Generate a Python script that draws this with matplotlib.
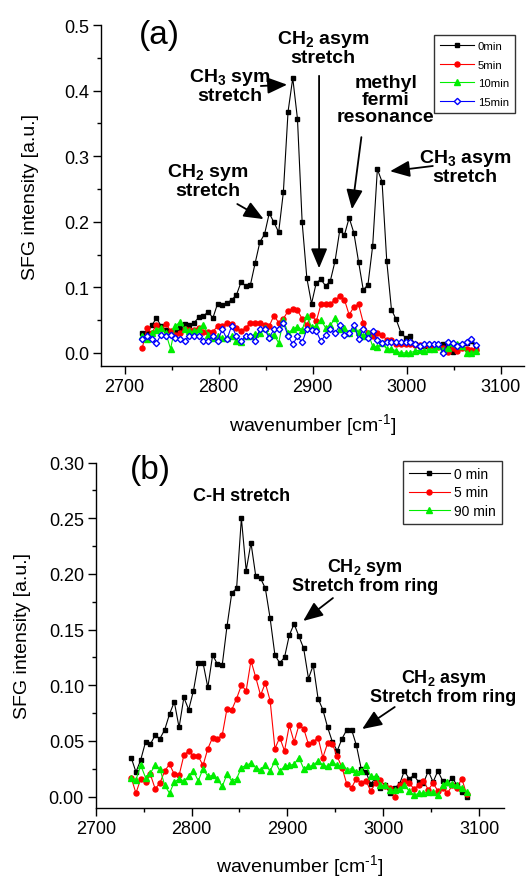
import matplotlib
matplotlib.use("Agg")
import matplotlib.pyplot as plt
from matplotlib.ticker import MultipleLocator, FormatStrFormatter

plt.rcParams['font.family'] = ['Liberation Sans', 'DejaVu Sans']
plt.rcParams['mathtext.fontset'] = 'custom'
plt.rcParams['mathtext.rm'] = 'Liberation Sans'
plt.rcParams['mathtext.it'] = 'Liberation Sans:italic'
plt.rcParams['mathtext.bf'] = 'Liberation Sans:bold'

# ---------------- panel (a) data ----------------
wn_a = [2719, 2724, 2729, 2734, 2739, 2744, 2749, 2754, 2759, 2764, 2769, 2774,
        2779, 2784, 2789, 2794, 2799, 2804, 2809, 2814, 2819, 2824, 2829, 2834,
        2839, 2844, 2849, 2854, 2859, 2864, 2869, 2874, 2879, 2884, 2889, 2894,
        2899, 2904, 2909, 2914, 2919, 2924, 2929, 2934, 2939, 2944, 2949, 2954,
        2959, 2964, 2969, 2974, 2979, 2984, 2989, 2994, 2999, 3004, 3009, 3014,
        3019, 3024, 3029, 3034, 3039, 3044, 3049, 3054, 3059, 3064, 3069, 3074]
a_0min = [0.030, 0.030, 0.042, 0.053, 0.041, 0.035, 0.030, 0.032, 0.038, 0.044,
          0.042, 0.046, 0.054, 0.056, 0.063, 0.053, 0.075, 0.073, 0.076, 0.081,
          0.088, 0.108, 0.102, 0.104, 0.137, 0.169, 0.181, 0.213, 0.199, 0.184,
          0.245, 0.368, 0.419, 0.357, 0.199, 0.114, 0.075, 0.107, 0.112, 0.102,
          0.110, 0.140, 0.187, 0.180, 0.206, 0.183, 0.139, 0.096, 0.104, 0.163,
          0.280, 0.261, 0.140, 0.066, 0.051, 0.031, 0.023, 0.025, 0.013, 0.010,
          0.011, 0.012, 0.010, 0.011, 0.013, 0.010, 0.002, 0.012, 0.010, 0.015,
          0.018, 0.006]
a_5min = [0.008, 0.038, 0.030, 0.043, 0.036, 0.044, 0.034, 0.027, 0.030, 0.036,
          0.035, 0.035, 0.038, 0.032, 0.032, 0.032, 0.041, 0.041, 0.046, 0.044,
          0.038, 0.033, 0.038, 0.046, 0.046, 0.046, 0.043, 0.041, 0.057, 0.046,
          0.052, 0.064, 0.067, 0.065, 0.052, 0.043, 0.058, 0.048, 0.074, 0.075,
          0.075, 0.081, 0.086, 0.081, 0.058, 0.070, 0.074, 0.046, 0.031, 0.025,
          0.031, 0.027, 0.020, 0.019, 0.013, 0.013, 0.014, 0.013, 0.012, 0.012,
          0.012, 0.010, 0.010, 0.009, 0.007, 0.001, 0.008, 0.003, 0.008, 0.006,
          0.005, 0.005]
a_10min = [0.026, 0.021, 0.030, 0.035, 0.038, 0.030, 0.006, 0.041, 0.047, 0.036,
           0.033, 0.033, 0.036, 0.043, 0.028, 0.023, 0.025, 0.022, 0.023, 0.025,
           0.018, 0.016, 0.026, 0.025, 0.029, 0.030, 0.038, 0.026, 0.028, 0.015,
           0.050, 0.030, 0.036, 0.040, 0.035, 0.057, 0.039, 0.041, 0.050, 0.038,
           0.042, 0.053, 0.036, 0.038, 0.031, 0.038, 0.032, 0.026, 0.031, 0.010,
           0.009, 0.015, 0.006, 0.006, 0.003, 0.000, 0.000, 0.000, 0.003, 0.004,
           0.003, 0.006, 0.006, 0.010, 0.004, 0.007, 0.015, 0.014, 0.010, 0.000,
           0.000, 0.003]
a_15min = [0.021, 0.026, 0.021, 0.015, 0.028, 0.026, 0.027, 0.023, 0.021, 0.018,
           0.026, 0.026, 0.026, 0.018, 0.018, 0.026, 0.018, 0.036, 0.021, 0.041,
           0.026, 0.018, 0.026, 0.026, 0.018, 0.036, 0.036, 0.023, 0.036, 0.036,
           0.046, 0.026, 0.013, 0.025, 0.016, 0.036, 0.035, 0.033, 0.018, 0.028,
           0.036, 0.030, 0.042, 0.028, 0.030, 0.043, 0.021, 0.036, 0.022, 0.033,
           0.020, 0.015, 0.017, 0.017, 0.017, 0.016, 0.016, 0.017, 0.013, 0.011,
           0.013, 0.013, 0.014, 0.014, 0.000, 0.017, 0.015, 0.011, 0.013, 0.016,
           0.021, 0.012]
labels_a = ["0min", "5min", "10min", "15min"]

# ---------------- panel (b) data ----------------
wn_b = [2737, 2742, 2747, 2752, 2757, 2762, 2767, 2772, 2777, 2782, 2787, 2792,
        2797, 2802, 2807, 2812, 2817, 2822, 2827, 2832, 2837, 2842, 2847, 2852,
        2857, 2862, 2867, 2872, 2877, 2882, 2887, 2892, 2897, 2902, 2907, 2912,
        2917, 2922, 2927, 2932, 2937, 2942, 2947, 2952, 2957, 2962, 2967, 2972,
        2977, 2982, 2987, 2992, 2997, 3002, 3007, 3012, 3017, 3022, 3027, 3032,
        3037, 3042, 3047, 3052, 3057, 3062, 3067, 3072, 3077, 3082, 3087]
b_0min = [0.035, 0.022, 0.033, 0.049, 0.047, 0.055, 0.052, 0.060, 0.074, 0.085,
          0.062, 0.089, 0.078, 0.095, 0.120, 0.120, 0.098, 0.127, 0.119, 0.118,
          0.153, 0.183, 0.187, 0.250, 0.203, 0.228, 0.198, 0.196, 0.187, 0.160,
          0.127, 0.120, 0.125, 0.145, 0.155, 0.144, 0.133, 0.106, 0.118, 0.088,
          0.078, 0.062, 0.049, 0.041, 0.052, 0.060, 0.060, 0.046, 0.025, 0.022,
          0.011, 0.017, 0.008, 0.010, 0.003, 0.008, 0.011, 0.023, 0.016, 0.019,
          0.013, 0.012, 0.023, 0.013, 0.023, 0.014, 0.012, 0.017, 0.010, 0.004,
          0.000]
b_5min = [0.017, 0.003, 0.016, 0.013, 0.020, 0.007, 0.012, 0.023, 0.029, 0.020,
          0.019, 0.037, 0.041, 0.036, 0.036, 0.028, 0.043, 0.053, 0.052, 0.055,
          0.079, 0.078, 0.088, 0.100, 0.095, 0.122, 0.107, 0.091, 0.102, 0.086,
          0.043, 0.053, 0.041, 0.064, 0.049, 0.064, 0.061, 0.047, 0.049, 0.053,
          0.035, 0.048, 0.047, 0.036, 0.026, 0.011, 0.008, 0.016, 0.012, 0.014,
          0.005, 0.012, 0.015, 0.009, 0.008, 0.000, 0.010, 0.014, 0.012, 0.007,
          0.010, 0.014, 0.006, 0.012, 0.005, 0.008, 0.003, 0.010, 0.008, 0.016,
          0.002]
b_90min = [0.017, 0.015, 0.028, 0.017, 0.021, 0.028, 0.025, 0.010, 0.003, 0.013,
           0.016, 0.014, 0.018, 0.023, 0.014, 0.025, 0.018, 0.019, 0.016, 0.009,
           0.020, 0.014, 0.016, 0.026, 0.028, 0.030, 0.026, 0.024, 0.028, 0.023,
           0.032, 0.023, 0.027, 0.028, 0.029, 0.035, 0.025, 0.027, 0.028, 0.032,
           0.028, 0.027, 0.031, 0.028, 0.028, 0.024, 0.025, 0.022, 0.023, 0.028,
           0.018, 0.018, 0.010, 0.010, 0.006, 0.006, 0.007, 0.010, 0.005, 0.001,
           0.003, 0.003, 0.004, 0.004, 0.001, 0.010, 0.013, 0.011, 0.010, 0.008,
           0.004]
labels_b = ["0 min", "5 min", "90 min"]

W, H = 531, 878
fig = plt.figure(figsize=(W / 100, H / 100), dpi=100)

def px_axes(left, top, right, bottom):
    return fig.add_axes([left / W, 1 - bottom / H, (right - left) / W, (bottom - top) / H])

def style_axes(ax):
    for s in ('top', 'right'):
        ax.spines[s].set_visible(False)
    for s in ('left', 'bottom'):
        ax.spines[s].set_linewidth(1.0)
    ax.tick_params(which='major', direction='out', length=5.5, width=1.0, labelsize=13, pad=3)
    ax.tick_params(which='minor', direction='out', length=3, width=1.0)
    ax.xaxis.set_major_locator(MultipleLocator(100))
    ax.xaxis.set_minor_locator(MultipleLocator(50))

xlab = r'wavenumber [cm$^{\text{-}1}$]'
lw = 0.8
# ---------------- panel (a) ----------------
ax1 = px_axes(101, 26, 524, 367)
style_axes(ax1)
ax1.plot(wn_a, a_0min, '-', color='black', lw=lw, marker='s', ms=3.2, mfc='black', mec='black', label=labels_a[0])
ax1.plot(wn_a, a_5min, '-', color='red', lw=lw, marker='o', ms=3.6, mfc='red', mec='red', label=labels_a[1])
ax1.plot(wn_a, a_10min, '-', color='#00ee00', lw=lw, marker='^', ms=3.8, mfc='#00ee00', mec='#00ee00', label=labels_a[2])
ax1.plot(wn_a, a_15min, '-', color='blue', lw=lw, marker='D', ms=3.2, mfc='white', mec='blue', mew=1.0, label=labels_a[3])
ax1.set_xlim(2675, 3125)
ax1.set_ylim(-0.02, 0.5)
ax1.yaxis.set_major_locator(MultipleLocator(0.1))
ax1.yaxis.set_minor_locator(MultipleLocator(0.05))
ax1.yaxis.set_major_formatter(FormatStrFormatter('%.1f'))
ax1.set_xlabel(xlab, fontsize=14, labelpad=12)
ax1.set_ylabel('SFG intensity [a.u.]', fontsize=14, labelpad=18)
leg1 = ax1.legend(loc='upper left', bbox_to_anchor=(434 / W, 1 - 36 / H), bbox_transform=fig.transFigure,
                  fontsize=8.2, frameon=True, fancybox=False, edgecolor='black', borderaxespad=0,
                  numpoints=1, handlelength=3.0, handletextpad=0.3, labelspacing=0.75, borderpad=0.55)
leg1.get_frame().set_linewidth(1.0)

bold = dict(fontsize=14, fontweight='bold', ha='center', va='center', linespacing=1.0)
arr = dict(arrowstyle='-|>,head_length=0.6,head_width=0.25', mutation_scale=20, lw=1.3, color='black',
           shrinkA=0, shrinkB=0)
ax1.text(2737, 0.485, '(a)', fontsize=24, ha='center', va='center')
ax1.text(2812, 0.409, 'CH$_\\mathbf{3}$ sym\nstretch', **bold)
ax1.annotate('', xy=(2873, 0.409), xytext=(2845, 0.407), arrowprops=arr)
ax1.text(2789, 0.2635, 'CH$_\\mathbf{2}$ sym\nstretch', **bold)
ax1.annotate('', xy=(2848, 0.204), xytext=(2820, 0.227), arrowprops=arr)
ax1.text(2911, 0.466, 'CH$_\\mathbf{2}$ asym\nstretch', **bold)
ax1.annotate('', xy=(2907, 0.129), xytext=(2907, 0.4225), arrowprops=arr)
ax1.text(2978, 0.3865, 'methyl\nfermi\nresonance', **bold)
ax1.annotate('', xy=(2942, 0.219), xytext=(2952, 0.329), arrowprops=arr)
ax1.text(3062, 0.2856, 'CH$_\\mathbf{3}$ asym\nstretch', **bold)
ax1.annotate('', xy=(2982.5, 0.277), xytext=(3028, 0.285), arrowprops=arr)

# ---------------- panel (b) ----------------
ax2 = px_axes(95.7, 463.6, 504, 809.3)
style_axes(ax2)
ax2.plot(wn_b, b_0min, '-', color='black', lw=lw, marker='s', ms=3.2, mfc='black', mec='black', label=labels_b[0])
ax2.plot(wn_b, b_5min, '-', color='red', lw=lw, marker='o', ms=3.6, mfc='red', mec='red', label=labels_b[1])
ax2.plot(wn_b, b_90min, '-', color='#00ee00', lw=lw, marker='^', ms=3.8, mfc='#00ee00', mec='#00ee00', label=labels_b[2])
ax2.set_xlim(2700, 3126)
ax2.set_ylim(-0.0106, 0.30)
ax2.yaxis.set_major_locator(MultipleLocator(0.05))
ax2.yaxis.set_minor_locator(MultipleLocator(0.025))
ax2.yaxis.set_major_formatter(FormatStrFormatter('%.2f'))
ax2.set_xlabel(xlab, fontsize=14, labelpad=11)
ax2.set_ylabel('SFG intensity [a.u.]', fontsize=14, labelpad=13)
leg2 = ax2.legend(loc='upper left', bbox_to_anchor=(403 / W, 1 - 462 / H), bbox_transform=fig.transFigure,
                  fontsize=10, frameon=True, fancybox=False, edgecolor='black', borderaxespad=0,
                  numpoints=1, handlelength=3.0, handletextpad=0.3, labelspacing=0.35, borderpad=0.4)
leg2.get_frame().set_linewidth(1.0)

bold_b = dict(fontsize=13, fontweight='bold', ha='center', va='center', linespacing=1.0)
ax2.text(2757, 0.2934, '(b)', fontsize=24, ha='center', va='center')
ax2.text(2852, 0.270, 'C-H stretch', **bold_b)
ax2.text(2981, 0.1986, 'CH$_\\mathbf{2}$ sym\nStretch from ring', **bold_b)
ax2.annotate('', xy=(2916.5, 0.1577), xytext=(2947.5, 0.1783), arrowprops=arr)
ax2.text(3063, 0.0993, 'CH$_\\mathbf{2}$ asym\nStretch from ring', **bold_b)
ax2.annotate('', xy=(2978, 0.0606), xytext=(3012, 0.0804), arrowprops=arr)

fig.savefig('out.png', dpi=100)
